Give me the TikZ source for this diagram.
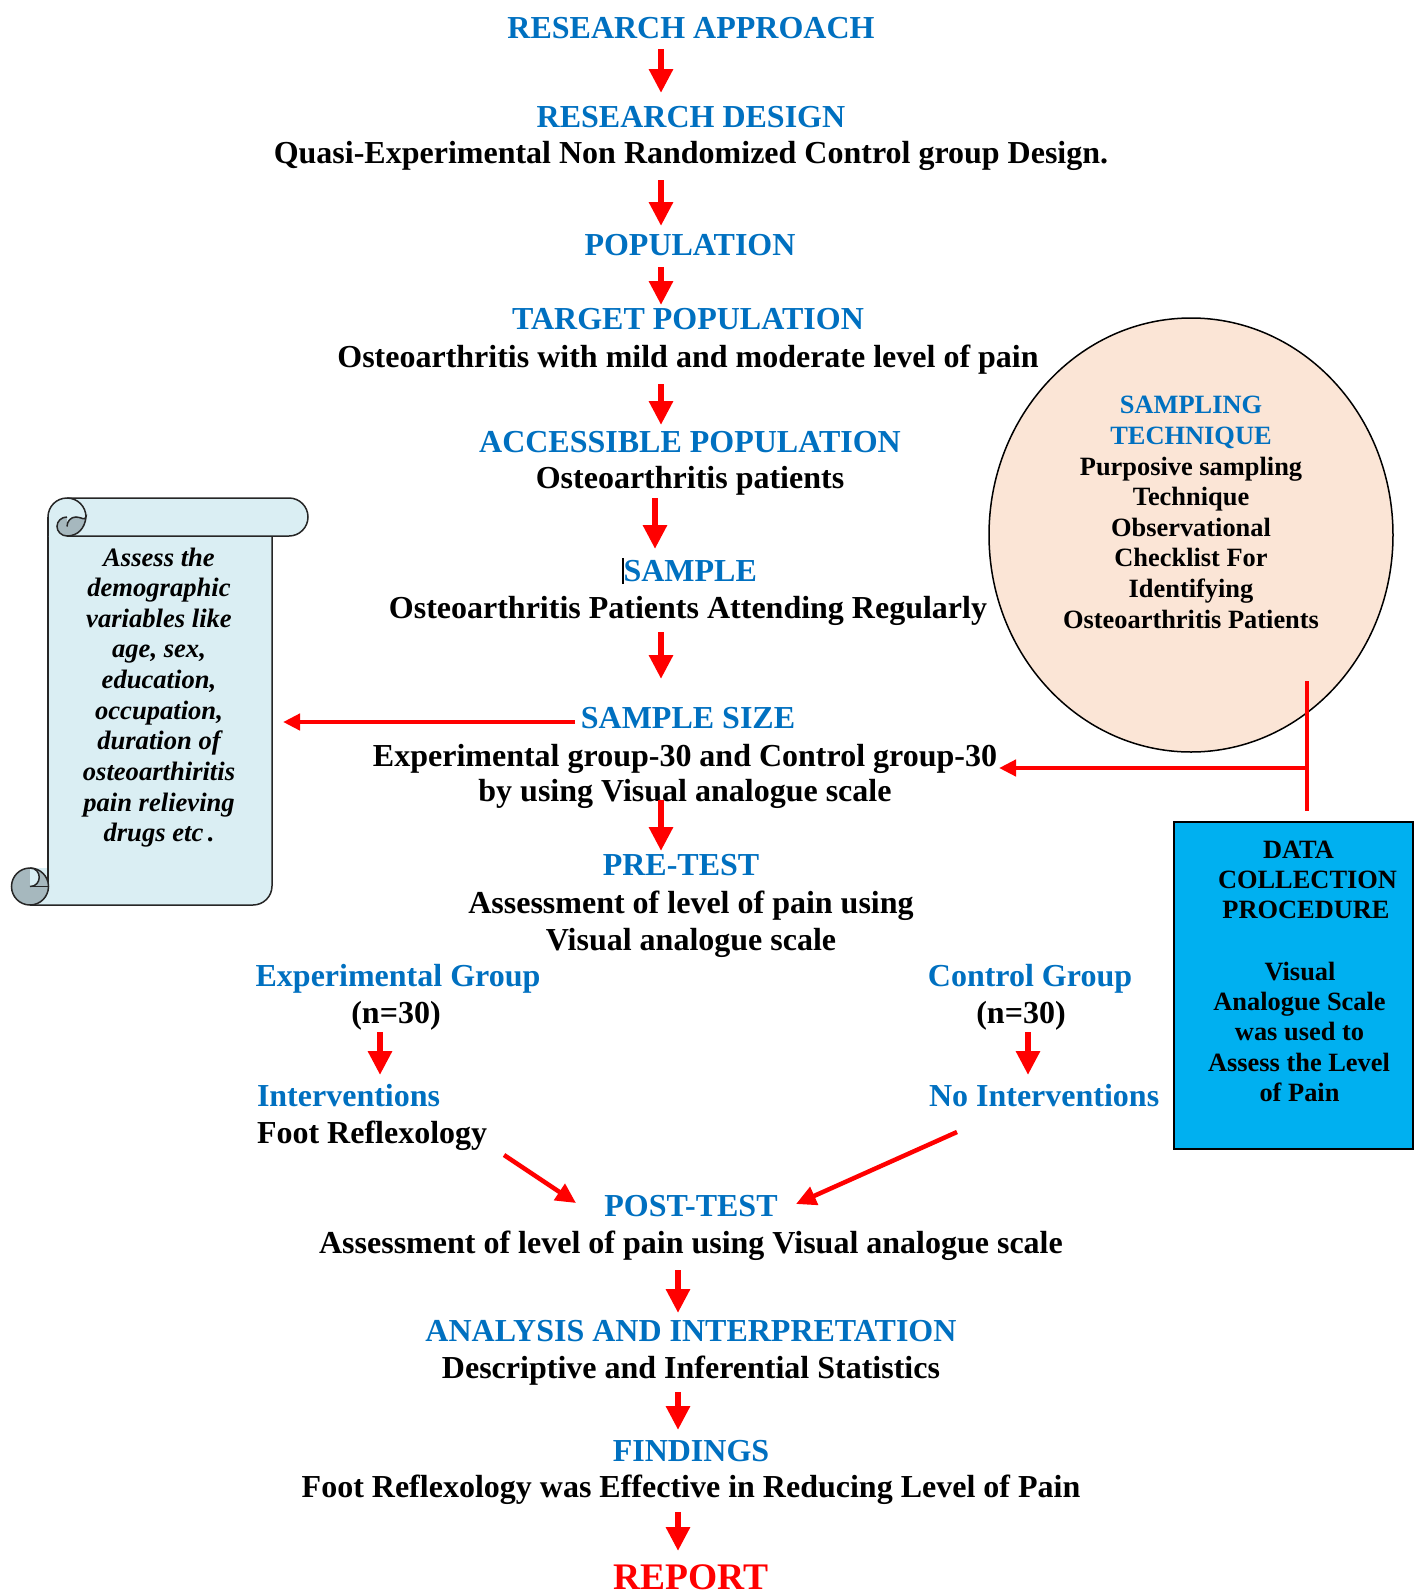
\documentclass[tikz,border=0pt]{standalone}
\usepackage{fontspec}
\setmainfont{Liberation Serif}
\usetikzlibrary{arrows.meta,shapes.geometric}
\definecolor{hblue}{HTML}{0070C0}
\definecolor{hred}{HTML}{FF0000}
\definecolor{scrollfill}{HTML}{DAEEF3}
\definecolor{scrollgrey}{HTML}{A6B8BE}
\definecolor{peach}{HTML}{FBE5D6}
\definecolor{boxcyan}{HTML}{00B0F0}
\begin{document}
\begin{tikzpicture}[x=1pt,y=-1pt,
  every node/.style={inner sep=0pt,outer sep=0pt},
  head/.style={text=hblue,font=\fontsize{32}{36}\selectfont\bfseries,anchor=base},
  body/.style={text=black,font=\fontsize{32}{36}\selectfont\bfseries,anchor=base},
  small/.style={font=\fontsize{26.4}{30}\selectfont\bfseries,anchor=base},
  scrolltxt/.style={font=\fontsize{26.6}{30}\selectfont\bfseries\itshape,anchor=base},
  varrow/.style={draw=hred,line width=6.5pt,-{Triangle[width=23pt,length=24pt]}},
  darrow/.style={draw=hred,line width=4.5pt,-{Triangle[width=19pt,length=20pt]}},
  harrow/.style={draw=hred,line width=4.5pt,-{Triangle[width=16pt,length=17pt]}},
  redline/.style={draw=hred,line width=4.5pt},
  scrollline/.style={draw=black!85,line width=1.5pt},
]
\useasboundingbox (0,0) rectangle (1414,1593);

% ---------- main column texts ----------
\node[head] (t1) at (691,38) {RESEARCH APPROACH};
\node[head] (t2) at (691,127) {RESEARCH DESIGN};
\node[body] (t3) at (691,163) {Quasi-Experimental Non Randomized Control group Design.};
\node[head] (t4) at (690,255) {POPULATION};
\node[head] (t5) at (688,329) {TARGET POPULATION};
\node[body] (t6) at (688,367) {Osteoarthritis with mild and moderate level of pain};
\node[head] (t7) at (690,452) {ACCESSIBLE POPULATION};
\node[body] (t8) at (690,488) {Osteoarthritis patients};
\node[head,anchor=base west] (t9) at (622,581) {\textcolor{black}{\rule[-3pt]{1.5pt}{26pt}}SAMPLE};
\node[body] (t10) at (688,618) {Osteoarthritis Patients Attending Regularly};
\node[head] (t11) at (688,728) {SAMPLE SIZE};
\node[body] (t12) at (685,766) {Experimental group-30 and Control group-30};
\node[body] (t13) at (685,801) {by using Visual analogue scale};
\node[head] (t14) at (681,875) {PRE-TEST};
\node[body] (t15) at (691,913) {Assessment of level of pain using};
\node[body] (t16) at (691,950) {Visual analogue scale};
\node[head] (t17) at (398,986) {Experimental Group};
\node[body] (t18) at (396,1023) {(n=30)};
\node[head] (t19) at (1030,986) {Control Group};
\node[body] (t20) at (1021,1023) {(n=30)};
\node[head,anchor=base west] (t21) at (257,1106) {Interventions};
\node[body,anchor=base west] (t22) at (257,1143) {Foot Reflexology};
\node[head,anchor=base west] (t23) at (929,1106) {No Interventions};
\node[head] (t24) at (691,1216) {POST-TEST};
\node[body] (t25) at (691,1253) {Assessment of level of pain using Visual analogue scale};
\node[head] (t26) at (691,1341) {ANALYSIS AND INTERPRETATION};
\node[body] (t27) at (691,1378) {Descriptive and Inferential Statistics};
\node[head] (t28) at (691,1461) {FINDINGS};
\node[body] (t29) at (691,1497) {Foot Reflexology was Effective in Reducing Level of Pain};
\node[text=hred,font=\fontsize{37.5}{40}\selectfont\bfseries,anchor=base] (t30) at (691,1589.5) {REPORT};

% ---------- vertical arrows ----------
\foreach \n/\x/\ya/\yb in {a1/661/49/93, a2/661/180/226, a3/661/267/305, a4/661/384/425,
  a5/655/498/549, a6/661/632/679, a7/661/800/851, a8/380/1032/1075, a9/1028/1032/1075,
  a12/678/1270/1313, a13/678/1392/1430, a14/678/1512/1551}{
  \coordinate (\n s) at (\x,\ya);
  \coordinate (\n e) at (\x,\yb);
  \draw[varrow] (\n s) -- (\n e);
}
% diagonal arrows
\coordinate (d1s) at (504,1155); \coordinate (d1e) at (576,1203);
\coordinate (d2s) at (957,1132); \coordinate (d2e) at (796,1204);
\draw[darrow] (d1s) -- (d1e);
\draw[darrow] (d2s) -- (d2e);

% ---------- scroll ----------
\fill[scrollfill] (48,517) -- (272,517) -- (272,886) .. controls (272,896.5) and (263.5,905) .. (253,905)
  -- (30,905) -- (30,868) -- (48,868) -- cycle;
\draw[scrollline] (48,517) -- (48,887);
\draw[scrollline] (272,536) -- (272,886) .. controls (272,896.5) and (263.5,905) .. (253,905) -- (30,905);
\draw[scrollline,fill=scrollfill] (48,536) -- (48,517) .. controls (48,506.5) and (56.5,498) .. (67,498)
  -- (289,498) .. controls (299.5,498) and (308,506.5) .. (308,517) .. controls (308,527.5) and (299.5,536) .. (289,536) -- (67,536);
\draw[scrollline,fill=scrollgrey] (67,526.5) .. controls (67,521) and (71,517) .. (76,517)
  .. controls (81,517) and (85,521) .. (86,517) .. controls (85,528) and (78,536) .. (67,536)
  .. controls (61.5,536) and (57,531.5) .. (57,526.5) .. controls (57,521) and (61.5,517) .. (67,517);
\draw[scrollline] (67,498) .. controls (77.5,498) and (86,506.5) .. (86,517);
\draw[scrollline,fill=scrollgrey] (30,886.5) circle (18.5);
\draw[scrollline,fill=scrollfill] (30,868) .. controls (42.3,868) and (42.3,886.5) .. (30,886.5);
\draw[scrollline] (30,886.5) -- (48,886.5);
\foreach \t [count=\i] in {Assess the, demographic, variables like, {age, sex,}, {education,},
  {occupation,}, duration of, osteoarthiritis, pain relieving, drugs etc\,.}{
  \node[scrolltxt] (s\i) at (159,{566+(\i-1)*30.63}) {\t};
}

% ---------- sampling circle ----------
\node[draw=black,line width=1.5pt,fill=peach,ellipse,minimum width=404,minimum height=434] (circ) at (1191,535) {};
\node[small,text=hblue] (c1) at (1191,413.5) {SAMPLING};
\node[small,text=hblue] (c2) at (1191,444.3) {TECHNIQUE};
\foreach \t [count=\i] in {Purposive sampling, Technique, Observational, Checklist For, Identifying, Osteoarthritis Patients}{
  \node[small] (cc\i) at (1191,{475+(\i-1)*30.65}) {\t};
}

% ---------- data collection box ----------
\node[draw=black,line width=1.5pt,fill=boxcyan,minimum width=239,minimum height=327,anchor=north west] (box) at (1174,822) {};
\node[small] (b1) at (1298.5,858.3) {DATA};
\node[small] (b2) at (1307.5,888.3) {COLLECTION};
\node[small] (b3) at (1306,918.3) {PROCEDURE};
\node[small] (b4) at (1300,980) {Visual};
\node[small] (b5) at (1299.5,1010) {Analogue Scale};
\node[small] (b6) at (1299.5,1040) {was used to};
\node[small] (b7) at (1299,1071.7) {Assess the Level};
\node[small] (b8) at (1299.5,1101.7) {of Pain};

% ---------- side connectors ----------
\coordinate (l1) at (575,722); \coordinate (l2) at (283,722);
\draw[harrow] (l1) -- (l2);
\coordinate (r1) at (1307,681); \coordinate (r2) at (1307,811);
\coordinate (rj) at (1307,768); \coordinate (r3) at (999,768);
\draw[redline] (r1) -- (r2);
\draw[harrow] (rj) -- (r3);
\end{tikzpicture}
\end{document}
